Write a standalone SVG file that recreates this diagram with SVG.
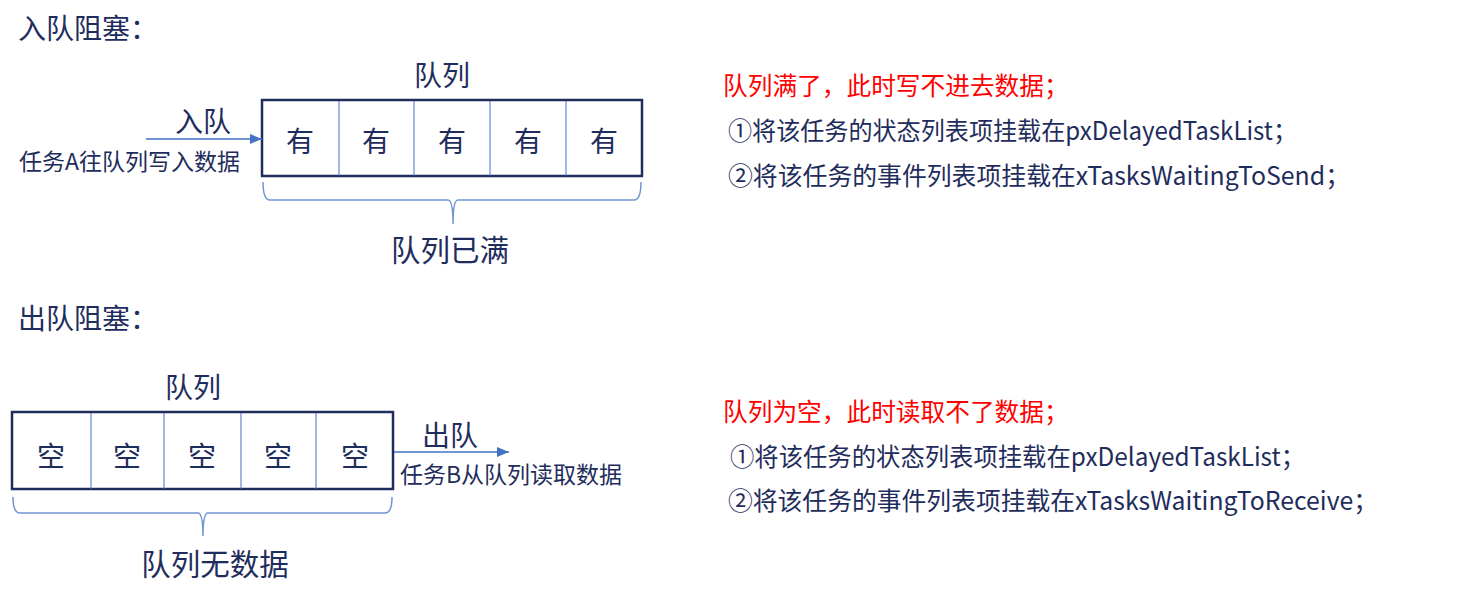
<svg xmlns="http://www.w3.org/2000/svg" width="1471" height="598" viewBox="0 0 1471 598">
<style>
text{font-family:"Microsoft YaHei","Noto Sans CJK SC","Noto Sans",sans-serif;fill:#1F2D5C}
.h{font-size:28px}
.c{font-size:28px;text-anchor:middle}
.b{font-size:29.5px;text-anchor:middle}
.s{font-size:23px}
.r{font-size:24.7px;fill:#FF0000}
.n{font-size:25px}
.box{fill:#fff;stroke:#1F2D5C;stroke-width:2.5}
.div{stroke:#4472C4;stroke-width:1}
.brace{fill:none;stroke:#6F95D4;stroke-width:1.5}
.arr{stroke:#4472C4;stroke-width:1.5;fill:none}
</style>
<defs>
<marker id="ah" markerWidth="12" markerHeight="10" refX="12" refY="5" orient="auto" markerUnits="userSpaceOnUse"><path d="M0,0 L12,5 L0,10 z" fill="#4472C4"/></marker>
</defs>
<rect width="1471" height="598" fill="#fff"/>
<text class="h" x="18" y="39">入队阻塞：</text>
<text class="h" x="18" y="329">出队阻塞：</text>
<g id="queue1">
<text class="c" x="442" y="86">队列</text>
<rect class="box" x="262" y="100" width="380" height="76"/>
<line class="div" x1="339" y1="101" x2="339" y2="176"/>
<line class="div" x1="414" y1="101" x2="414" y2="176"/>
<line class="div" x1="490" y1="101" x2="490" y2="176"/>
<line class="div" x1="566" y1="101" x2="566" y2="176"/>
<text class="c" x="300" y="152">有</text>
<text class="c" x="376" y="152">有</text>
<text class="c" x="452" y="152">有</text>
<text class="c" x="528" y="152">有</text>
<text class="c" x="604" y="152">有</text>
</g>
<g id="brace1"><path class="brace" d="M263,182 Q263,200 270,200 L448,200 Q453,200 453,224 Q453,200 458,200 L634,200 Q641,200 641,182"/>
<text class="b" x="450" y="261">队列已满</text></g>
<g id="enqueue">
<text class="c" x="203" y="132">入队</text>
<text class="s" x="19" y="170">任务A往队列写入数据</text>
</g>
<g id="queue2">
<text class="c" x="193" y="398">队列</text>
<rect class="box" x="12" y="412" width="381" height="77"/>
<line class="div" x1="91" y1="413" x2="91" y2="489"/>
<line class="div" x1="164" y1="413" x2="164" y2="489"/>
<line class="div" x1="241" y1="413" x2="241" y2="489"/>
<line class="div" x1="316" y1="413" x2="316" y2="489"/>
<text class="c" x="51" y="467">空</text>
<text class="c" x="127" y="467">空</text>
<text class="c" x="202" y="467">空</text>
<text class="c" x="278" y="467">空</text>
<text class="c" x="355" y="467">空</text>
</g>
<g id="brace2"><path class="brace" d="M13,497 Q13,513 20,513 L198,513 Q203,513 203,536 Q203,513 208,513 L385,513 Q392,513 392,497"/>
<text class="b" x="215" y="575">队列无数据</text></g>
<g id="dequeue">
<text class="h" x="422" y="446">出队</text>
<text class="s" x="400" y="483">任务B从队列读取数据</text>
</g>
<g id="connectors">
<line class="arr" x1="146" y1="139" x2="262" y2="139" marker-end="url(#ah)"/>
<line class="arr" x1="394" y1="452" x2="509" y2="452" marker-end="url(#ah)"/>
</g>
<g id="note1">
<text class="r" x="723" y="95">队列满了，此时写不进去数据；</text>
<text class="n" x="728" y="140" textLength="569" lengthAdjust="spacingAndGlyphs">①将该任务的状态列表项挂载在pxDelayedTaskList；</text>
<text class="n" x="728" y="185" textLength="622" lengthAdjust="spacingAndGlyphs">②将该任务的事件列表项挂载在xTasksWaitingToSend；</text>
</g>
<g id="note2">
<text class="r" x="723" y="421">队列为空，此时读取不了数据；</text>
<text class="n" x="730" y="466" textLength="575" lengthAdjust="spacingAndGlyphs">①将该任务的状态列表项挂载在pxDelayedTaskList；</text>
<text class="n" x="728" y="510" textLength="650" lengthAdjust="spacingAndGlyphs">②将该任务的事件列表项挂载在xTasksWaitingToReceive；</text>
</g>
</svg>
